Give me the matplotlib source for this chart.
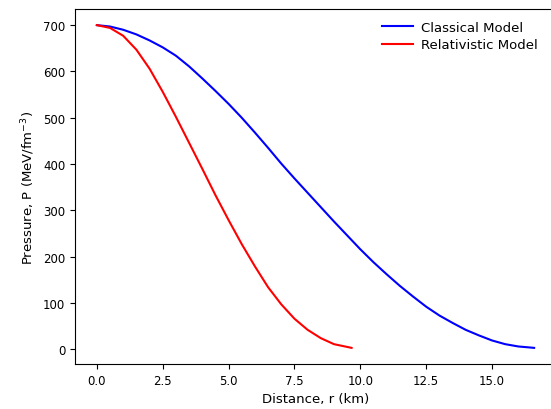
import matplotlib
matplotlib.use("Agg")
import matplotlib.pyplot as plt

# Classical model: distance (km) and pressure
r_classical = [0, 0.5, 1, 1.5, 2, 2.5, 3, 3.5, 4, 4.5, 5, 5.5, 6, 6.5, 7, 7.5, 8, 8.5, 9, 9.5,
               10, 10.5, 11, 11.5, 12, 12.5, 13, 13.5, 14, 14.5, 15, 15.5, 16, 16.6]
p_classical = [700, 697, 690, 680, 667, 652, 634, 611, 585, 558, 530, 500, 468, 435, 401, 369,
               338, 307, 276, 246, 216, 188, 162, 137, 114, 92, 73, 57, 42, 30, 19, 11, 6, 3]

# Relativistic model
r_relativistic = [0, 0.5, 1.0, 1.5, 2.0, 2.5, 3.0, 3.5, 4.0, 4.5, 5.0, 5.5, 6.0, 6.5, 7.0,
                  7.5, 8.0, 8.5, 9.0, 9.67]
p_relativistic = [700, 694, 677, 647, 606, 556, 502, 446, 390, 333, 279, 227, 179, 134, 97,
                  66, 42, 24, 11, 3]

labels = ["Classical Model", "Relativistic Model"]

plt.rcParams["font.size"] = 9.5

fig = plt.figure(figsize=(5.51, 4.10), dpi=100)
ax = fig.add_axes([75 / 551, 1 - 365 / 410, (556 - 75) / 551, (365 - 10) / 410])

ax.plot(r_classical, p_classical, color="blue", lw=1.5, label=labels[0])
ax.plot(r_relativistic, p_relativistic, color="red", lw=1.5, label=labels[1])

ax.set_xlabel("Distance, r (km)", fontsize=9.5)
ax.set_ylabel("Pressure, P (MeV/fm$^{-3}$)", fontsize=9.5)
ax.set_xticks([0, 2.5, 5, 7.5, 10, 12.5, 15])
ax.set_yticks([0, 100, 200, 300, 400, 500, 600, 700])
ax.tick_params(labelsize=8.5)

ax.legend(loc="upper right", bbox_to_anchor=(550 / 551, 1 - 10 / 410),
          bbox_transform=fig.transFigure, frameon=False, fontsize=9.5,
          handlelength=2.4, handletextpad=0.6, labelspacing=0.35)

fig.savefig("out.png", dpi=100)
